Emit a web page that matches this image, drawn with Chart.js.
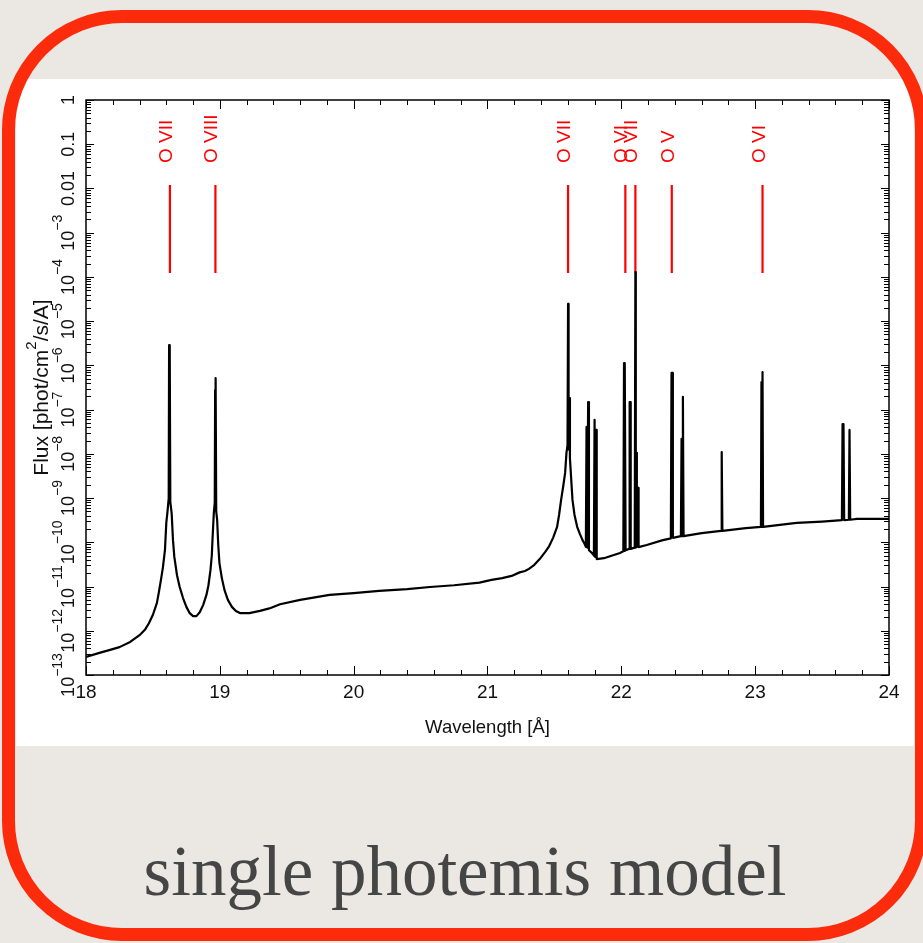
<!DOCTYPE html>
<html>
<head>
<meta charset="utf-8">
<script src="https://cdn.jsdelivr.net/npm/chart.js@4.4.1/dist/chart.umd.min.js"></script>
<style>
  html, body { margin: 0; padding: 0; width: 923px; height: 943px; overflow: hidden; background: #ebe8e3; }
  #frame { position: absolute; left: 2px; top: 10px; width: 900px; height: 905px; border: 13px solid #fc2b0b; border-radius: 120px; box-sizing: content-box; }
  #panel { position: absolute; left: 16px; top: 79px; width: 898px; height: 667px; background: #fff; }
  #plot { position: absolute; left: 0; top: 0; }
  #caption { position: absolute; left: 0; width: 930px; top: 836px; text-align: center; font-family: "Liberation Serif", serif; font-size: 71px; line-height: 71px; color: #454545; }
</style>
</head>
<body>
<div id="panel"></div>
<div id="frame"></div>
<canvas id="plot" width="923" height="943"></canvas>
<div id="caption">single photemis model</div>
<script>
// model spectrum (wavelength in A, flux in phot/cm2/s/A)
const wavelength = [
  18.00, 18.10, 18.18, 18.25, 18.33, 18.40, 18.44, 18.47, 18.50, 18.53,
  18.545, 18.56, 18.575, 18.59, 18.60, 18.61, 18.618, 18.621, 18.624, 18.627,
  18.630, 18.64, 18.65, 18.66, 18.68, 18.70, 18.725, 18.75, 18.775, 18.80,
  18.825, 18.85, 18.875, 18.90, 18.915, 18.93, 18.94, 18.945, 18.955, 18.962,
  18.965, 18.967, 18.970, 18.973, 18.98, 18.988, 18.997, 19.015, 19.035, 19.06,
  19.09, 19.12, 19.15, 19.22, 19.30, 19.37, 19.45, 19.60, 19.82, 20.00,
  20.19, 20.40, 20.57, 20.75, 20.94, 21.03, 21.11, 21.18, 21.24, 21.28,
  21.31, 21.35, 21.39, 21.43, 21.46, 21.49, 21.52, 21.535, 21.55, 21.565,
  21.58, 21.59, 21.598, 21.602, 21.606, 21.612, 21.616, 21.62, 21.628, 21.635,
  21.65, 21.67, 21.69, 21.71, 21.725, 21.735, 21.74, 21.745, 21.752, 21.758,
  21.78, 21.795, 21.80, 21.805, 21.812, 21.816, 21.87, 21.99, 22.015, 22.02,
  22.024, 22.027, 22.032, 22.058, 22.062, 22.066, 22.07, 22.10, 22.105, 22.108,
  22.112, 22.116, 22.125, 22.129, 22.19, 22.31, 22.37, 22.375, 22.38, 22.385,
  22.445, 22.45, 22.455, 22.46, 22.465, 22.60, 22.745, 22.75, 22.755, 22.93,
  23.043, 23.047, 23.051, 23.055, 23.059, 23.31, 23.50, 23.648, 23.653, 23.66,
  23.665, 23.70, 23.705, 23.71, 23.76, 24.00
];
const flux = [
  2.57e-13, 3.16e-13, 3.7e-13, 4.27e-13, 5.6e-13, 7.94e-13, 1.05e-12, 1.48e-12, 2.3e-12, 4.27e-12,
  7.6e-12, 1.41e-11, 2.75e-11, 6.76e-11, 2.75e-10, 5.37e-10, 1.0e-9, 2.88e-6, 9.0e-10, 2.88e-6,
  8.1e-10, 4.57e-10, 1.12e-10, 4.68e-11, 1.8e-11, 9.77e-12, 5.5e-12, 3.47e-12, 2.5e-12, 2.14e-12,
  2.14e-12, 2.63e-12, 3.8e-12, 6.46e-12, 1.07e-11, 2.34e-11, 5.1e-11, 1.12e-10, 4.57e-10, 7.9e-10,
  2.75e-7, 6.3e-10, 5.13e-7, 5.0e-10, 3.16e-10, 8.9e-11, 3.39e-11, 1.55e-11, 8.3e-12, 5.0e-12,
  3.47e-12, 2.8e-12, 2.51e-12, 2.51e-12, 2.82e-12, 3.2e-12, 3.98e-12, 5.0e-12, 6.46e-12, 7.1e-12,
  7.94e-12, 8.7e-12, 9.77e-12, 1.07e-11, 1.23e-11, 1.41e-11, 1.55e-11, 1.74e-11, 2.09e-11, 2.24e-11,
  2.51e-11, 3.1e-11, 4.17e-11, 6.0e-11, 8.13e-11, 1.26e-10, 2.24e-10, 4.2e-10, 9.1e-10, 1.78e-9,
  3.7e-9, 1.05e-8, 1.58e-8, 2.45e-5, 1.26e-8, 1.82e-7, 7.9e-9, 5.0e-9, 2.0e-9, 9.1e-10,
  4.2e-10, 2.24e-10, 1.55e-10, 1.12e-10, 9.3e-11, 7.9e-11, 4.07e-8, 7.6e-11, 1.48e-7, 6.6e-11,
  5.75e-11, 5.0e-11, 5.9e-8, 4.68e-11, 3.47e-8, 4.17e-11, 4.37e-11, 5.75e-11, 6.3e-11, 1.12e-6,
  6.4e-11, 1.12e-6, 6.6e-11, 7.1e-11, 1.48e-7, 1.48e-7, 7.1e-11, 7.6e-11, 1.29e-4, 7.6e-11,
  1.05e-8, 7.8e-11, 1.7e-9, 7.8e-11, 8.7e-11, 1.12e-10, 1.23e-10, 6.76e-7, 6.76e-7, 1.26e-10,
  1.38e-10, 2.19e-8, 1.38e-10, 1.95e-7, 1.38e-10, 1.62e-10, 1.82e-10, 1.1e-8, 1.82e-10, 2.09e-10,
  2.24e-10, 4.17e-7, 2.24e-10, 7.08e-7, 2.24e-10, 2.75e-10, 2.95e-10, 3.16e-10, 4.68e-8, 4.68e-8,
  3.16e-10, 3.24e-10, 3.47e-8, 3.24e-10, 3.39e-10, 3.39e-10
];

// line identifications (red markers)
const lineWave = [18.627, 18.967, 21.602, 22.03, 22.105, 22.377, 23.055];
const lineNames = ['O VII', 'O VIII', 'O VII', 'O VI', 'O VII', 'O V', 'O VI'];
const markTop = 0.012;
const markBottom = 1.23e-4;

// axes
const xMin = 18, xMax = 24, xMinorStep = 0.2;
const xTicks = [18, 19, 20, 21, 22, 23, 24];
const yTicks = [1, 0.1, 0.01, 1e-3, 1e-4, 1e-5, 1e-6, 1e-7, 1e-8, 1e-9, 1e-10, 1e-11, 1e-12, 1e-13];
const yTickLabels = ['1', '0.1', '0.01', '10^\u22123', '10^\u22124', '10^\u22125', '10^\u22126', '10^\u22127',
  '10^\u22128', '10^\u22129', '10^\u221210', '10^\u221211', '10^\u221212', '10^\u221213'];

const sans = '"Liberation Sans", Arial, sans-serif';

const datasets = [{
  data: wavelength.map((w, i) => ({ x: w, y: flux[i] })),
  borderColor: '#000',
  borderWidth: 2.2,
  borderJoinStyle: 'round',
  pointRadius: 0,
  tension: 0
}];
lineWave.forEach(w => {
  datasets.push({
    data: [{ x: w, y: markTop }, { x: w, y: markBottom }],
    borderColor: '#ff0000',
    borderWidth: 2.2,
    pointRadius: 0
  });
});

// rotated text with optional superscript: "base^sup"
function rotText(ctx, text, cx, cy, size, align) {
  const [base, sup] = text.split('^');
  const supSize = Math.round(size * 0.75);
  ctx.save();
  ctx.translate(cx, cy);
  ctx.rotate(-Math.PI / 2);
  ctx.textBaseline = 'middle';
  ctx.textAlign = 'left';
  ctx.font = size + 'px ' + sans;
  const wb = ctx.measureText(base).width;
  let ws = 0;
  if (sup) { ctx.font = supSize + 'px ' + sans; ws = ctx.measureText(sup).width; }
  const u = align === 'center' ? -(wb + ws) / 2 : 0;
  ctx.font = size + 'px ' + sans;
  ctx.fillText(base, u, 0);
  if (sup) { ctx.font = supSize + 'px ' + sans; ctx.fillText(sup, u + wb, -size * 0.6); }
  ctx.restore();
}

const pgplotAxes = {
  id: 'pgplotAxes',
  afterDatasetsDraw(chart) {
    const { ctx, chartArea: a, scales: { x, y } } = chart;
    ctx.save();
    ctx.strokeStyle = '#000';
    ctx.lineWidth = 1.5;
    ctx.strokeRect(a.left, a.top, a.right - a.left, a.bottom - a.top);

    ctx.lineWidth = 1;
    ctx.beginPath();
    // x ticks, bottom and top, pointing inward
    for (let v = xMin; v <= xMax + 1e-6; v += xMinorStep) {
      const px = Math.round(x.getPixelForValue(v)) + 0.5;
      const major = xTicks.some(t => Math.abs(t - v) < 1e-6);
      const len = major ? 9 : 5;
      ctx.moveTo(px, a.bottom); ctx.lineTo(px, a.bottom - len);
      ctx.moveTo(px, a.top); ctx.lineTo(px, a.top + len);
    }
    // y ticks, left and right, log minor ticks
    yTicks.forEach((t, i) => {
      const py = Math.round(y.getPixelForValue(t)) + 0.5;
      ctx.moveTo(a.left, py); ctx.lineTo(a.left + 8, py);
      ctx.moveTo(a.right, py); ctx.lineTo(a.right - 8, py);
      if (i < yTicks.length - 1) {
        for (let m = 2; m <= 9; m++) {
          const pm = Math.round(y.getPixelForValue(t / 10 * m)) + 0.5;
          ctx.moveTo(a.left, pm); ctx.lineTo(a.left + 5, pm);
          ctx.moveTo(a.right, pm); ctx.lineTo(a.right - 5, pm);
        }
      }
    });
    ctx.stroke();

    // tick labels
    ctx.fillStyle = '#111';
    ctx.font = '19px ' + sans;
    ctx.textAlign = 'center';
    ctx.textBaseline = 'top';
    xTicks.forEach(t => ctx.fillText(String(t), x.getPixelForValue(t), a.bottom + 8));
    yTicks.forEach((t, i) => rotText(ctx, yTickLabels[i], 69, y.getPixelForValue(t), 18, 'center'));

    // axis titles
    ctx.font = '18.5px ' + sans;
    ctx.textBaseline = 'middle';
    ctx.textAlign = 'center';
    ctx.fillText('Wavelength [\u00c5]', (a.left + a.right) / 2, 728);
    ctx.save();
    ctx.translate(42, (a.top + a.bottom) / 2);
    ctx.rotate(-Math.PI / 2);
    ctx.textAlign = 'left';
    ctx.font = '21px ' + sans;
    const t1 = 'Flux [phot/cm', t2 = '2', t3 = '/s/A]';
    const w1 = ctx.measureText(t1).width, w3 = ctx.measureText(t3).width;
    ctx.font = '15px ' + sans;
    const w2 = ctx.measureText(t2).width;
    let u = -(w1 + w2 + w3) / 2;
    ctx.font = '21px ' + sans;
    ctx.fillText(t1, u, 0); u += w1;
    ctx.font = '15px ' + sans;
    ctx.fillText(t2, u, -10); u += w2;
    ctx.font = '21px ' + sans;
    ctx.fillText(t3, u, 0);
    ctx.restore();

    // line identification labels
    ctx.fillStyle = '#ff0000';
    lineWave.forEach((w, i) => {
      ctx.save();
      ctx.translate(x.getPixelForValue(w) + 2, 163);
      ctx.rotate(-Math.PI / 2);
      ctx.font = '19px ' + sans;
      ctx.textAlign = 'left';
      ctx.textBaseline = 'alphabetic';
      ctx.fillText(lineNames[i], 0, 0);
      ctx.restore();
    });
    ctx.restore();
  }
};

new Chart(document.getElementById('plot'), {
  type: 'line',
  data: { datasets },
  options: {
    responsive: false,
    animation: false,
    devicePixelRatio: 1,
    layout: { padding: { left: 86, right: 34, top: 100, bottom: 268 } },
    scales: {
      x: { type: 'linear', min: xMin, max: xMax, display: false },
      y: { type: 'logarithmic', min: 1e-13, max: 1, display: false }
    },
    plugins: { legend: { display: false }, tooltip: { enabled: false } }
  },
  plugins: [pgplotAxes]
});
</script>
</body>
</html>
